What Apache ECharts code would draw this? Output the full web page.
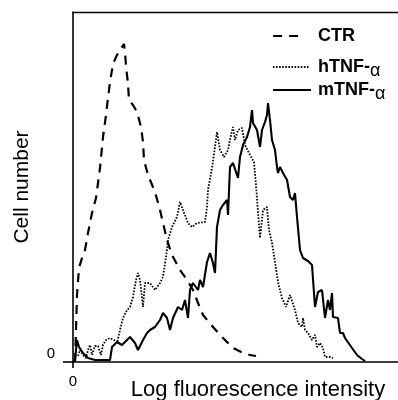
<!DOCTYPE html>
<html>
<head>
<meta charset="utf-8">
<script src="https://cdn.jsdelivr.net/npm/echarts@6/dist/echarts.min.js"></script>
<style>html,body{margin:0;padding:0;background:#fff}#c{width:398px;height:400px}</style>
</head>
<body>
<div id="c"></div>
<script>
// x: log fluorescence channel (arbitrary units), y: cell number (arbitrary units)
var ctrData = [[2,0],[3,32],[4,67],[6,94],[9,104],[12,112],[15,129],[19,149],[23,164],[27,194],[30,225],[33,247],[35,264],[37,280],[40,298],[44,307],[47,312],[51,318],[52,310],[53,296],[55,278],[56,262],[60,257],[64,250],[68,235],[70,220],[71,202],[75,187],[82,170],[87,152],[90,139],[94,122],[99,107],[107,92],[114,82],[120,72],[125,59],[130,47],[140,35],[149,25],[160,14],[170,9],[177,7],[183,6]];
var hTnfData = [[5,6],[7,12],[10,7],[13,4],[15,12],[17,17],[19,7],[22,16],[25,16],[28,7],[30,17],[33,22],[37,24],[41,22],[44,19],[47,32],[50,44],[54,52],[57,55],[60,65],[63,82],[65,89],[67,82],[70,55],[72,79],[77,79],[82,72],[87,79],[90,85],[94,112],[95,122],[99,135],[104,145],[107,160],[110,152],[115,139],[119,135],[124,139],[132,140],[134,155],[135,172],[139,194],[142,215],[144,230],[147,212],[151,205],[155,212],[158,227],[160,235],[162,222],[165,232],[169,234],[172,217],[177,207],[181,200],[183,177],[185,150],[187,124],[190,152],[194,155],[196,132],[199,119],[202,100],[205,80],[209,64],[213,55],[217,67],[222,52],[225,39],[229,35],[230,44],[232,32],[235,29],[239,22],[242,27],[244,15],[247,19],[250,14],[252,5],[257,5],[260,4]];
var mTnfData = [[2,2],[4,22],[6,15],[10,9],[15,4],[22,2],[37,2],[39,15],[44,20],[49,17],[54,22],[57,25],[62,19],[65,12],[70,22],[74,29],[77,32],[82,35],[87,42],[90,49],[94,44],[97,32],[100,44],[105,55],[109,52],[112,62],[115,44],[117,72],[120,79],[125,72],[127,82],[130,75],[134,100],[137,109],[140,99],[142,89],[144,135],[147,152],[150,157],[154,162],[155,147],[157,195],[160,199],[165,184],[167,205],[170,217],[174,225],[177,235],[179,252],[180,239],[184,232],[187,215],[189,232],[192,240],[194,247],[195,259],[197,242],[199,222],[202,212],[204,195],[205,189],[207,195],[210,189],[214,182],[217,165],[220,162],[222,169],[224,145],[227,112],[230,104],[235,101],[239,97],[241,69],[242,55],[245,70],[249,72],[252,44],[255,62],[257,52],[259,69],[260,45],[265,44],[267,29],[270,29],[272,24],[279,14],[284,7],[289,3],[292,1]];
var seriesNames = ['CTR', 'hTNF-α', 'mTNF-α'];
var xTicks = [0];
var yTicks = [0];
var xName = 'Log fluorescence intensity';
var yName = 'Cell number';

var FONT = '"Liberation Sans", Arial, Helvetica, sans-serif';
var chart = echarts.init(document.getElementById('c'), null, {renderer: 'canvas'});

var styles = [
  {color: '#000', width: 2.2, type: [9, 7]},
  {color: '#000', width: 1.8, type: [1.6, 1.5]},
  {color: '#000', width: 2.1, type: 'solid'}
];

function legendFmt(name) {
  var i = name.indexOf('-');
  if (i < 0) return '{b|' + name + '}';
  return '{b|' + name.slice(0, i + 1) + '}{a|' + name.slice(i + 1) + '}';
}
var rich = {
  b: {fontFamily: FONT, fontWeight: 'bold', fontSize: 18, color: '#000'},
  a: {fontFamily: FONT, fontWeight: 'normal', fontSize: 18, color: '#000', padding: [9, 0, 0, 0]}
};
function mkLegend(idx, top, w, pad) {
  return {
    data: [seriesNames[idx]], left: 272, top: top, padding: 0, itemWidth: w, itemHeight: 14,
    selectedMode: false, formatter: legendFmt,
    itemStyle: {opacity: 0, borderWidth: 0},
    lineStyle: styles[idx],
    textStyle: {rich: rich, padding: [0, 0, 0, pad]}
  };
}

chart.setOption({
  animation: false,
  backgroundColor: '#fff',
  grid: {left: 73, right: 0, top: 12, bottom: 38, outerBoundsMode: 'none', containLabel: false},
  legend: [
    mkLegend(0, 27, 26, 14),
    mkLegend(1, 58, 36, 4),
    mkLegend(2, 81, 38, 2)
  ],
  xAxis: [{
    type: 'value', min: 0, max: 325, position: 'bottom',
    name: xName, nameLocation: 'middle', nameGap: 17, nameMoveOverlap: false,
    nameTextStyle: {fontFamily: FONT, fontSize: 22, color: '#000', padding: [0, 0, 0, 45]},
    axisLine: {show: true, lineStyle: {color: '#000', width: 1.6}},
    axisTick: {show: true, customValues: xTicks, length: 6, lineStyle: {color: '#000', width: 1.6}},
    axisLabel: {show: true, customValues: xTicks, margin: 12, fontFamily: FONT, fontSize: 15, color: '#000'},
    splitLine: {show: false}
  }, {
    type: 'value', min: 0, max: 325, position: 'top',
    axisLine: {show: true, lineStyle: {color: '#000', width: 1.4}},
    axisTick: {show: false}, axisLabel: {show: false}, splitLine: {show: false}
  }],
  yAxis: {
    type: 'value', min: 0, max: 350,
    name: yName, nameLocation: 'middle', nameGap: 40, nameMoveOverlap: false,
    nameTextStyle: {fontFamily: FONT, fontSize: 21, color: '#000'},
    axisLine: {show: true, lineStyle: {color: '#000', width: 1.6}},
    axisTick: {show: true, customValues: yTicks, length: 10, lineStyle: {color: '#000', width: 1.6}},
    axisLabel: {show: true, customValues: yTicks, margin: 18, fontFamily: FONT, fontSize: 15, color: '#000', verticalAlign: 'bottom', lineHeight: 16},
    splitLine: {show: false}
  },
  series: [
    {name: seriesNames[0], type: 'line', data: ctrData, symbol: 'none', showSymbol: false,
     lineStyle: styles[0], itemStyle: {color: '#000'}},
    {name: seriesNames[1], type: 'line', data: hTnfData, symbol: 'none', showSymbol: false,
     lineStyle: styles[1], itemStyle: {color: '#000'}},
    {name: seriesNames[2], type: 'line', data: mTnfData, symbol: 'none', showSymbol: false,
     lineStyle: styles[2], itemStyle: {color: '#000'}}
  ]
});
</script>
</body>
</html>
